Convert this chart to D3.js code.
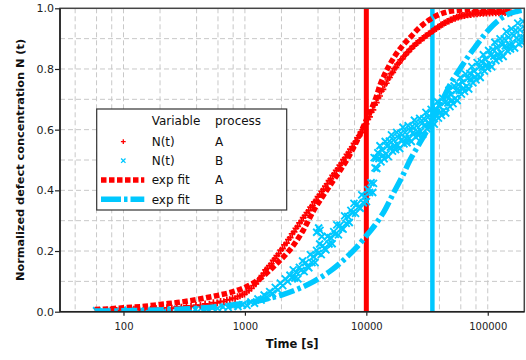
<!DOCTYPE html>
<html>
<head>
<meta charset="utf-8">
<script src="https://cdn.jsdelivr.net/npm/d3@7"></script>
<style>
  html, body { margin: 0; padding: 0; background: #fff; }
  svg { display: block; font-family: "DejaVu Sans", Verdana, sans-serif; }
</style>
</head>
<body>
<svg id="chart" width="526" height="360"></svg>
<script>
// ---- data ---------------------------------------------------------------
// measured normalized defect concentration, process A  [time (s), N]
const measuredA = [
  [62,0.004],[70,0.002],[78,0.005],[88,0.004],[98,0.007],[110,0.005],[122,0.008],[135,0.006],
  [150,0.009],[168,0.008],[185,0.011],[205,0.010],[228,0.013],[250,0.012],[275,0.016],[300,0.015],
  [330,0.019],[360,0.018],[395,0.022],[430,0.021],[470,0.026],[510,0.025],[550,0.030],[590,0.029],
  [630,0.034],[670,0.033],[710,0.039],[750,0.040],[790,0.045],[830,0.043],[870,0.050],[910,0.052],
  [950,0.056],[990,0.058],[1030,0.065],[1080,0.070],[1130,0.077],[1180,0.086],[1230,0.092],[1280,0.101],
  [1330,0.108],[1380,0.119],[1430,0.126],[1480,0.138],[1530,0.143],[1590,0.152],[1650,0.158],[1710,0.169],
  [1770,0.175],[1830,0.185],[1900,0.191],[1970,0.203],[2040,0.208],[2120,0.220],[2200,0.226],[2280,0.238],
  [2360,0.244],[2450,0.257],[2540,0.263],[2630,0.275],[2720,0.281],[2820,0.293],[2920,0.299],[3020,0.310],
  [3130,0.317],[3240,0.327],[3360,0.333],[3480,0.345],[3600,0.350],[3730,0.362],[3860,0.367],[4000,0.379],
  [4140,0.386],[4290,0.397],[4440,0.403],[4600,0.414],[4760,0.421],[4930,0.432],[5100,0.438],[5280,0.449],
  [5460,0.455],[5650,0.466],[5850,0.472],[6050,0.483],[6260,0.490],[6480,0.501],[6700,0.507],[6930,0.519],
  [7170,0.525],[7410,0.536],[7660,0.543],[7920,0.555],[8190,0.561],[8460,0.573],[8740,0.580],[9030,0.592],
  [9330,0.599],[9640,0.612],[9950,0.619],[10280,0.634],[10620,0.642],[10970,0.658],[11330,0.665],[11700,0.682],
  [12080,0.689],[12470,0.705],[12870,0.711],[13280,0.727],[13700,0.733],[14140,0.748],[14590,0.753],[15050,0.767],
  [15520,0.772],[16000,0.785],[16500,0.789],[17010,0.801],[17530,0.805],[18070,0.816],[18620,0.820],[19190,0.830],
  [19770,0.833],[20370,0.842],[20980,0.846],[21610,0.854],[22250,0.857],[22910,0.865],[23590,0.868],[24290,0.875],
  [25010,0.878],[25750,0.884],[26510,0.887],[27300,0.893],[28110,0.895],[28940,0.901],[29800,0.903],[30680,0.909],
  [31590,0.911],[32530,0.916],[33500,0.918],[34500,0.923],[35530,0.926],[36600,0.931],[37700,0.933],[38830,0.938],
  [40000,0.940],[41200,0.945],[42450,0.947],[43730,0.951],[45050,0.953],[46410,0.957],[47810,0.958],[49250,0.962],
  [50740,0.963],[52270,0.967],[53850,0.967],[55480,0.971],[57150,0.971],[58880,0.974],[60660,0.974],[62490,0.977],
  [64380,0.976],[66320,0.979],[68320,0.978],[70380,0.981],[72500,0.979],[74690,0.983],[76940,0.981],[79260,0.984],
  [81650,0.982],[84110,0.985],[86650,0.983],[89260,0.986],[91960,0.983],[94730,0.987],[97590,0.984],[100500,0.988],
  [103500,0.984],[106600,0.988],[109800,0.985],[113100,0.989],[116500,0.985],[120000,0.989],[123600,0.985],[127300,0.989],
  [131100,0.985],[135000,0.989],[139000,0.986],[143200,0.989],[147500,0.985],[151900,0.988],[156500,0.985]
];

// measured normalized defect concentration, process B  [time (s), N]
const measuredB = [
  [60,0.003],[68,0.001],[77,0.004],[87,0.002],[98,0.005],[110,0.002],[124,0.004],[140,0.006],
  [157,0.003],[176,0.006],[198,0.004],[222,0.007],[249,0.005],[279,0.008],[312,0.006],[349,0.009],
  [390,0.007],[435,0.011],[484,0.009],[538,0.013],[597,0.011],[660,0.016],[728,0.014],[800,0.019],
  [877,0.017],[958,0.023],[1040,0.021],[1120,0.032],[1200,0.028],[1280,0.042],[1360,0.038],[1440,0.055],
  [1520,0.049],[1600,0.066],[1690,0.060],[1780,0.080],[1870,0.072],[1960,0.094],[2050,0.086],[2150,0.108],
  [2250,0.100],[2350,0.120],[2450,0.112],
  [2500,0.138],[2575,0.111],[2650,0.130],[2730,0.108],[2810,0.146],[2900,0.136],[2985,0.167],[3075,0.132],
  [3170,0.162],[3260,0.150],[3360,0.145],[3460,0.188],[3565,0.162],[3670,0.182],[3780,0.162],[3895,0.202],
  [3900,0.262],[4010,0.192],[4050,0.276],[4130,0.223],[4150,0.268],[4255,0.188],[4300,0.248],[4380,0.218],
  [4515,0.208],[4650,0.204],[4790,0.248],[4930,0.223],[5080,0.244],[5230,0.224],[5390,0.264],[5550,0.255],
  [5715,0.286],[5890,0.253],[6065,0.285],[6245,0.275],[6435,0.272],[6625,0.316],[6825,0.291],[7030,0.314],
  [7240,0.294],[7460,0.334],[7680,0.325],[7910,0.357],[8150,0.324],[8395,0.355],[8645,0.345],[8905,0.341],
  [9170,0.385],[9445,0.359],[9730,0.380],[10020,0.363],[10320,0.402],[10630,0.393],[10950,0.425],[11280,0.393],
  [11450,0.423],
  [11600,0.508],[11800,0.474],[12000,0.506],[12200,0.472],[12450,0.524],[12700,0.505],[12950,0.547],[13210,0.494],
  [13470,0.533],[13740,0.515],[14020,0.504],[14300,0.561],[14580,0.520],[14870,0.545],[15170,0.511],[15470,0.562],
  [15780,0.542],[16100,0.583],[16420,0.529],[16750,0.566],[17090,0.547],[17430,0.534],[17780,0.591],[18130,0.549],
  [18490,0.573],[18860,0.538],[19240,0.588],[19630,0.568],[20020,0.608],[20420,0.553],[20830,0.590],[21250,0.570],
  [21670,0.557],[22100,0.613],[22540,0.571],[22990,0.596],[23450,0.561],[23920,0.611],[24400,0.591],[24890,0.631],
  [25390,0.576],[25900,0.613],[26420,0.593],[26950,0.581],[27490,0.637],[28040,0.595],[28600,0.620],[29170,0.585],
  [29750,0.636],[30350,0.616],[30960,0.657],[31580,0.603],[32210,0.641],[32850,0.622],[33510,0.610],[34180,0.667],
  [34860,0.626],[35560,0.652],[36270,0.618],[37000,0.669],[37740,0.650],[38490,0.692],[39260,0.638],[40050,0.677],
  [40850,0.658],[41670,0.647],[42500,0.704],[43350,0.663],[44220,0.689],[45100,0.655],[46000,0.707],[46920,0.688],
  [47860,0.730],[48820,0.676],[49800,0.715],[50800,0.697],[51810,0.686],[52850,0.744],[53900,0.703],[54980,0.729],
  [56080,0.696],[57200,0.748],[58350,0.729],[59520,0.771],[60710,0.717],[61920,0.756],[63160,0.737],[64420,0.726],
  [65710,0.783],[67030,0.743],[68370,0.768],[69740,0.734],[71130,0.785],[72550,0.767],[74000,0.808],[75480,0.754],
  [76990,0.793],[78530,0.774],[80100,0.764],[81700,0.821],[83340,0.781],[85010,0.806],[86710,0.772],[88440,0.824],
  [90210,0.805],[92010,0.847],[93850,0.793],[95730,0.832],[97650,0.813],[99600,0.802],[101600,0.861],[103600,0.816],
  [105700,0.845],[107800,0.807],[110000,0.864],[112200,0.842],[114400,0.888],[116700,0.828],[119000,0.870],[121400,0.849],
  [123800,0.835],[126300,0.899],[128800,0.852],[131400,0.880],[134000,0.841],[136700,0.899],[139400,0.876],[142200,0.923],
  [145100,0.860],[148000,0.904],[150900,0.880],[153900,0.866],[157000,0.932],[160100,0.881],[163300,0.911],[166600,0.869],
  [169900,0.928],[173300,0.902],[176800,0.951],[180300,0.883],[183900,0.929],[187600,0.903],[191400,0.887],[195200,0.957],
  [199100,0.903],[203100,0.934]
];

// exponential fit curves  [time (s), N]
const fitA = [
  [58,0.007],[80,0.010],[100,0.013],[150,0.018],[200,0.024],[300,0.032],[400,0.040],[600,0.054],
  [800,0.066],[1000,0.080],[1300,0.106],[1800,0.156],[2500,0.218],[3000,0.266],[3700,0.335],[4300,0.376],
  [5000,0.415],[6000,0.462],[6900,0.500],[8300,0.560],[10000,0.632],[12000,0.705],[13000,0.748],[14000,0.778],
  [16700,0.835],[20000,0.878],[23000,0.904],[27000,0.934],[31400,0.956],[38000,0.976],[46000,0.988],[60000,0.994],
  [80000,0.997],[110000,0.998],[150000,0.998]
];
const fitB = [
  [58,0.002],[100,0.003],[200,0.006],[400,0.011],[700,0.020],[1000,0.028],[1500,0.042],[2000,0.055],
  [2700,0.074],[3700,0.100],[5000,0.133],[6900,0.180],[8300,0.212],[10000,0.250],[12000,0.290],[13700,0.324],
  [16700,0.390],[20000,0.450],[22900,0.500],[27000,0.550],[31400,0.595],[35000,0.632],[43000,0.703],[50000,0.755],
  [59000,0.800],[70000,0.845],[81000,0.879],[95000,0.915],[111000,0.945],[130000,0.968],[150000,0.982],[175000,0.990],
  [200000,0.995]
];

// characteristic times marked by vertical lines (s)
const tauA = 10000;
const tauB = 35000;

// axis ticks and legend entries
const xTicks = [100, 1000, 10000, 100000];
const yTicks = [0, 0.2, 0.4, 0.6, 0.8, 1.0];
const legendHeader = ["Variable", "process"];
const legendRows = [
  { kind: "plus",    variable: "N(t)",    process: "A" },
  { kind: "cross",   variable: "N(t)",    process: "B" },
  { kind: "dotted",  variable: "exp fit", process: "A" },
  { kind: "dashdot", variable: "exp fit", process: "B" }
];

// ---- styling ------------------------------------------------------------
const RED = "#ff0000";
const BLUE = "#00c8ff";
const GRID = "#c8c8c8";
const FRAME = "#444";

const svg = d3.select("#chart");
const plot = { left: 60, right: 524.3, top: 8.3, bottom: 311.7 };

const x = d3.scaleLog().domain([30, 200000]).range([plot.left, plot.right]);
const y = d3.scaleLinear().domain([0, 1]).range([plot.bottom, plot.top]);

// grid lines: 2,4,6,8 x 10^k and decades; horizontal every 0.1
const xGrid = [];
for (let e = 1; e <= 5; e++) {
  [1, 2, 4, 6, 8].forEach(m => {
    const v = m * Math.pow(10, e);
    if (v > 30 && v < 200000) xGrid.push(v);
  });
}
const yGrid = d3.range(1, 10).map(i => i / 10);

const gGrid = svg.append("g");
gGrid.selectAll("line.vx").data(xGrid).join("line")
  .attr("x1", d => x(d)).attr("x2", d => x(d))
  .attr("y1", plot.top).attr("y2", plot.bottom)
  .attr("stroke", GRID).attr("stroke-width", 1).attr("stroke-dasharray", "5,3");
gGrid.selectAll("line.hy").data(yGrid).join("line")
  .attr("x1", plot.left).attr("x2", plot.right)
  .attr("y1", d => y(d)).attr("y2", d => y(d))
  .attr("stroke", GRID).attr("stroke-width", 1).attr("stroke-dasharray", "5,3");

// clip region for the data
svg.append("clipPath").attr("id", "plotClip")
  .append("rect")
  .attr("x", plot.left).attr("y", plot.top)
  .attr("width", plot.right - plot.left).attr("height", plot.bottom - plot.top);

const gData = svg.append("g").attr("clip-path", "url(#plotClip)");

// vertical marker lines at the characteristic times
gData.append("line")
  .attr("x1", x(tauA)).attr("x2", x(tauA)).attr("y1", plot.top).attr("y2", plot.bottom)
  .attr("stroke", RED).attr("stroke-width", 5);
gData.append("line")
  .attr("x1", x(tauB)).attr("x2", x(tauB)).attr("y1", plot.top).attr("y2", plot.bottom)
  .attr("stroke", BLUE).attr("stroke-width", 4.5);

// marker shapes
const markerPath = (kind, s) => kind === "plus"
  ? `M${-s},0H${s}M0,${-s}V${s}`
  : `M${-s},${-s}L${s},${s}M${-s},${s}L${s},${-s}`;

gData.append("g").selectAll("path").data(measuredB).join("path")
  .attr("transform", d => `translate(${x(d[0])},${y(d[1])})`)
  .attr("d", markerPath("cross", 3.5)).attr("stroke", BLUE).attr("stroke-width", 1.9).attr("fill", "none");

gData.append("g").selectAll("path").data(measuredA).join("path")
  .attr("transform", d => `translate(${x(d[0])},${y(d[1])})`)
  .attr("d", markerPath("plus", 3.4)).attr("stroke", RED).attr("stroke-width", 1.7).attr("fill", "none");

const line = d3.line().x(d => x(d[0])).y(d => y(d[1])).curve(d3.curveMonotoneX);

gData.append("path").datum(fitA)
  .attr("d", line).attr("fill", "none")
  .attr("stroke", RED).attr("stroke-width", 5.5).attr("stroke-dasharray", "5.5,2.5");

gData.append("path").datum(fitB)
  .attr("d", line).attr("fill", "none")
  .attr("stroke", BLUE).attr("stroke-width", 5.5).attr("stroke-dasharray", "16,3.5,3.5,3.5");

// ---- axes ---------------------------------------------------------------
const xAxis = svg.append("g")
  .attr("transform", `translate(0,${plot.bottom})`)
  .call(d3.axisBottom(x).tickValues(xTicks).tickFormat(d3.format("d")).tickSize(4).tickPadding(7));
xAxis.select(".domain").remove();
xAxis.selectAll("line").attr("stroke", "#222").attr("stroke-width", 1.2);
xAxis.selectAll("text").attr("font-size", 10).attr("fill", "#222")
  .attr("font-family", "DejaVu Sans, Verdana, sans-serif");

const yAxis = svg.append("g")
  .attr("transform", `translate(${plot.left},0)`)
  .call(d3.axisLeft(y).tickValues(yTicks).tickFormat(d3.format(".1f")).tickSize(5).tickPadding(1));
yAxis.select(".domain").remove();
yAxis.selectAll("line").attr("stroke", "#222").attr("stroke-width", 1.2);
yAxis.selectAll("text").attr("font-size", 11).attr("fill", "#222")
  .attr("font-family", "DejaVu Sans, Verdana, sans-serif");

// frame around the plot area
svg.append("rect")
  .attr("x", plot.left).attr("y", plot.top)
  .attr("width", plot.right - plot.left).attr("height", plot.bottom - plot.top)
  .attr("fill", "none").attr("stroke", FRAME).attr("stroke-width", 1.5);
svg.append("line")
  .attr("x1", plot.left).attr("x2", plot.right).attr("y1", plot.bottom).attr("y2", plot.bottom)
  .attr("stroke", "#222").attr("stroke-width", 1.6);
svg.append("line")
  .attr("x1", plot.left).attr("x2", plot.left).attr("y1", plot.top).attr("y2", plot.bottom)
  .attr("stroke", "#222").attr("stroke-width", 1.6);

// axis titles
svg.append("text")
  .attr("x", (plot.left + plot.right) / 2).attr("y", 347.5)
  .attr("text-anchor", "middle").attr("font-weight", "bold").attr("font-size", 11.5)
  .attr("fill", "#111").text("Time [s]");
svg.append("text")
  .attr("transform", `translate(24,${(plot.top + plot.bottom) / 2}) rotate(-90)`)
  .attr("text-anchor", "middle").attr("font-weight", "bold").attr("font-size", 11.3)
  .attr("fill", "#111").text("Normalized defect concentration N (t)");

// ---- legend -------------------------------------------------------------
const lg = svg.append("g");
lg.append("rect")
  .attr("x", 96.7).attr("y", 109).attr("width", 190).attr("height", 101)
  .attr("fill", "#fff").attr("stroke", "#333").attr("stroke-width", 1.2);

const colVar = 151.7, colProc = 215, symX = 123.3;
lg.append("text").attr("x", colVar).attr("y", 125).attr("font-size", 12).attr("fill", "#111").text(legendHeader[0]);
lg.append("text").attr("x", colProc).attr("y", 125).attr("font-size", 12).attr("fill", "#111").text(legendHeader[1]);

const rowY = [141.7, 160.7, 180, 199.3];
legendRows.forEach((r, i) => {
  const cy = rowY[i];
  if (r.kind === "plus") {
    lg.append("path").attr("transform", `translate(${symX},${cy})`).attr("d", markerPath("plus", 2.4))
      .attr("stroke", RED).attr("stroke-width", 1.3).attr("fill", "none");
  } else if (r.kind === "cross") {
    lg.append("path").attr("transform", `translate(${symX},${cy})`).attr("d", markerPath("cross", 2.2))
      .attr("stroke", BLUE).attr("stroke-width", 1.3).attr("fill", "none");
  } else if (r.kind === "dotted") {
    lg.append("line").attr("x1", 101).attr("x2", 144.3).attr("y1", cy).attr("y2", cy)
      .attr("stroke", RED).attr("stroke-width", 5.5).attr("stroke-dasharray", "5.5,2.5");
  } else {
    lg.append("line").attr("x1", 101).attr("x2", 144.3).attr("y1", cy).attr("y2", cy)
      .attr("stroke", BLUE).attr("stroke-width", 5.5).attr("stroke-dasharray", "20,3,3.5,3");
  }
  lg.append("text").attr("x", colVar).attr("y", cy + 4.3).attr("font-size", 12).attr("fill", "#111").text(r.variable);
  lg.append("text").attr("x", colProc).attr("y", cy + 4.3).attr("font-size", 12).attr("fill", "#111").text(r.process);
});
</script>
</body>
</html>
